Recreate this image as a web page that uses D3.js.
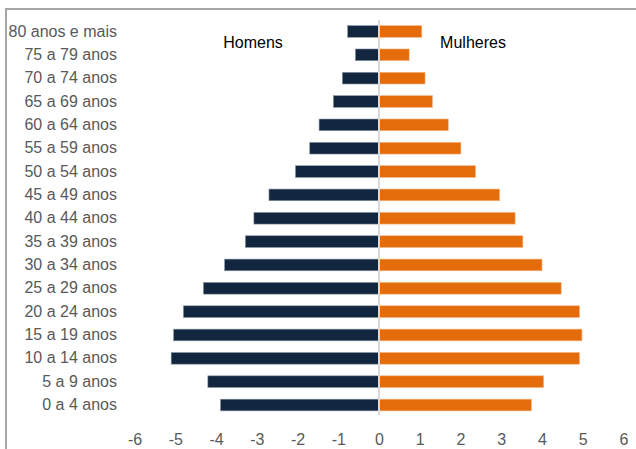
<!DOCTYPE html>
<html>
<head>
<meta charset="utf-8">
<script src="https://cdn.jsdelivr.net/npm/d3@7"></script>
<style>
  body { margin: 0; background: #fff; }
  svg text { font-family: "Liberation Sans", Arial, sans-serif; }
  .axis text { fill: #595959; font-size: 16px; }
  .axis path, .axis line { display: none; }
</style>
</head>
<body>
<script>
// faixas etárias, da base ao topo
const faixas = ["0 a 4 anos", "5 a 9 anos", "10 a 14 anos", "15 a 19 anos", "20 a 24 anos",
  "25 a 29 anos", "30 a 34 anos", "35 a 39 anos", "40 a 44 anos", "45 a 49 anos",
  "50 a 54 anos", "55 a 59 anos", "60 a 64 anos", "65 a 69 anos", "70 a 74 anos",
  "75 a 79 anos", "80 anos e mais"];
// percentuais (homens negativos no gráfico)
const homens = [3.89, 4.20, 5.10, 5.04, 4.80, 4.31, 3.79, 3.28, 3.07, 2.70,
  2.05, 1.70, 1.47, 1.12, 0.90, 0.58, 0.77];
const mulheres = [3.74, 4.04, 4.92, 4.98, 4.92, 4.47, 4.00, 3.53, 3.34, 2.96,
  2.37, 2.01, 1.70, 1.31, 1.13, 0.74, 1.05];
const xTicks = [-6, -5, -4, -3, -2, -1, 0, 1, 2, 3, 4, 5, 6];

const W = 636, H = 449;
const data = faixas.map((f, i) => ({ faixa: f, h: homens[i], m: mulheres[i] }));

const svg = d3.select("body").append("svg")
  .attr("width", W).attr("height", H);

// moldura (só aparece à esquerda e em cima)
svg.append("rect")
  .attr("x", 6).attr("y", 9)
  .attr("width", W + 10).attr("height", H + 10)
  .attr("fill", "none").attr("stroke", "#a6a6a6").attr("stroke-width", 2);

const x = d3.scaleLinear().domain([-6, 6]).range([134.5, 623.5]);
const y = d3.scaleBand()
  .domain(faixas.slice().reverse())
  .range([19.8, 416.7])
  .paddingInner(0.5).paddingOuter(0.25);

svg.selectAll(".bar-h")
  .data(data)
  .enter().append("rect")
  .attr("class", "bar-h")
  .attr("x", d => x(-d.h))
  .attr("y", d => y(d.faixa))
  .attr("width", d => x(0) - x(-d.h))
  .attr("height", y.bandwidth())
  .attr("fill", "#12263f")
  .attr("stroke", "#8c97a6").attr("stroke-width", 0.6);

svg.selectAll(".bar-m")
  .data(data)
  .enter().append("rect")
  .attr("class", "bar-m")
  .attr("x", x(0))
  .attr("y", d => y(d.faixa))
  .attr("width", d => x(d.m) - x(0))
  .attr("height", y.bandwidth())
  .attr("fill", "#e46c0a")
  .attr("stroke", "#f3b27e").attr("stroke-width", 0.6);

// linha do zero
svg.append("line")
  .attr("x1", x(0)).attr("x2", x(0))
  .attr("y1", 20).attr("y2", 415)
  .attr("stroke", "#d9d9d9").attr("stroke-width", 2);

svg.append("g")
  .attr("class", "axis")
  .attr("transform", "translate(120,0)")
  .call(d3.axisLeft(y).tickSize(0).tickPadding(3));

svg.append("g")
  .attr("class", "axis")
  .attr("transform", "translate(0,428)")
  .call(d3.axisBottom(x).tickValues(xTicks).tickSize(0).tickPadding(6).tickFormat(d => String(d)));

svg.append("text").attr("x", 253).attr("y", 48)
  .attr("text-anchor", "middle").attr("font-size", 16).attr("fill", "#000")
  .text("Homens");
svg.append("text").attr("x", 473).attr("y", 48)
  .attr("text-anchor", "middle").attr("font-size", 16).attr("fill", "#000")
  .text("Mulheres");
</script>
</body>
</html>
